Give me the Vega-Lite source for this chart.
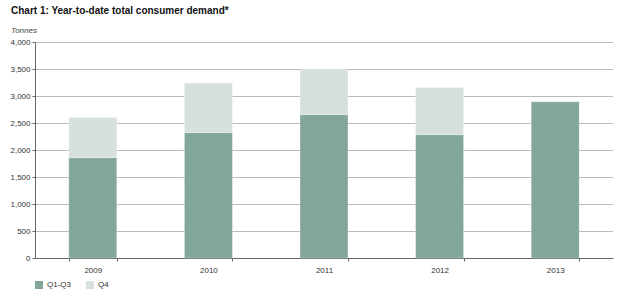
{
  "$schema": "https://vega.github.io/schema/vega-lite/v6.json",
  "width": 578,
  "height": 216,
  "autosize": {"type": "none"},
  "padding": {"left": 35, "top": 42, "right": 12, "bottom": 36},
  "background": "white",
  "title": {
    "text": "Chart 1: Year-to-date total consumer demand*",
    "subtitle": "Tonnes",
    "anchor": "start",
    "frame": "group",
    "dx": -24,
    "offset": 3,
    "font": "Liberation Sans",
    "fontSize": 10,
    "fontWeight": "bold",
    "color": "#111",
    "subtitleFont": "Liberation Sans",
    "subtitleFontSize": 8,
    "subtitleFontStyle": "italic",
    "subtitleColor": "#444",
    "subtitlePadding": 11
  },
  "data": {
    "values": [
      {"year": "2009", "part": "Q1-Q3", "tonnes": 1859},
      {"year": "2009", "part": "Q4", "tonnes": 741},
      {"year": "2010", "part": "Q1-Q3", "tonnes": 2322},
      {"year": "2010", "part": "Q4", "tonnes": 919},
      {"year": "2011", "part": "Q1-Q3", "tonnes": 2656},
      {"year": "2011", "part": "Q4", "tonnes": 833},
      {"year": "2012", "part": "Q1-Q3", "tonnes": 2285},
      {"year": "2012", "part": "Q4", "tonnes": 871},
      {"year": "2013", "part": "Q1-Q3", "tonnes": 2896},
      {"year": "2013", "part": "Q4", "tonnes": 0}
    ]
  },
  "mark": {"type": "bar", "stroke": "#ffffff", "strokeWidth": 0.5, "strokeOpacity": 0.6},
  "encoding": {
    "x": {
      "field": "year",
      "type": "nominal",
      "scale": {"paddingInner": 0.585, "paddingOuter": 0.2925},
      "axis": {
        "title": null,
        "labelAngle": 0,
        "labelFont": "Liberation Sans",
        "labelFontSize": 8,
        "labelColor": "#333",
        "labelPadding": 5,
        "domainColor": "#666",
        "tickColor": "#666",
        "tickBand": "extent",
        "tickSize": 3,
        "grid": false
      }
    },
    "y": {
      "field": "tonnes",
      "type": "quantitative",
      "stack": "zero",
      "scale": {"domain": [0, 4000], "nice": false},
      "axis": {
        "title": null,
        "values": [0, 500, 1000, 1500, 2000, 2500, 3000, 3500, 4000],
        "format": ",d",
        "labelFont": "Liberation Sans",
        "labelFontSize": 8,
        "labelColor": "#333",
        "labelPadding": 2,
        "domainColor": "#666",
        "tickColor": "#666",
        "tickSize": 3,
        "grid": true,
        "gridColor": "#777",
        "gridDash": [1, 1],
        "gridWidth": 1
      }
    },
    "color": {
      "field": "part",
      "type": "nominal",
      "scale": {"domain": ["Q1-Q3", "Q4"], "range": ["#82a69a", "#d6e1dd"]},
      "legend": {
        "title": null,
        "orient": "none",
        "direction": "horizontal",
        "legendX": 0,
        "legendY": 239,
        "symbolType": "square",
        "symbolSize": 64,
        "symbolStrokeWidth": 0,
        "labelFont": "Liberation Sans",
        "labelFontSize": 8,
        "labelColor": "#333",
        "columnPadding": 14
      }
    },
    "order": {"field": "part", "sort": "ascending"}
  },
  "config": {"view": {"stroke": null}}
}
